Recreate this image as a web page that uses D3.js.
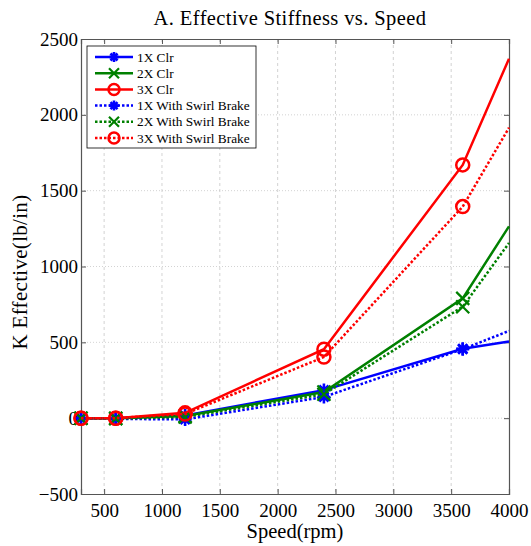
<!DOCTYPE html>
<html>
<head>
<meta charset="utf-8">
<script src="https://cdn.jsdelivr.net/npm/d3@7"></script>
<style>
  body { margin: 0; background: #fff; }
  svg text { font-family: "Liberation Serif", "Times New Roman", "DejaVu Serif", serif; }
</style>
</head>
<body>
<div id="chart"></div>
<script>
// data
const speeds = [300, 600, 1200, 2400, 3600, 4000];
const k1xClr = [0, 0, 18, 185, 458, 505];
const k2xClr = [0, 0, 14, 172, 790, 1265];
const k3xClr = [0, 0, 35, 455, 1670, 2370];
const k1xBrake = [0, -5, -8, 140, 455, 575];
const k2xBrake = [0, -3, 8, 158, 735, 1155];
const k3xBrake = [0, 0, 28, 403, 1395, 1915];
const xTicks = [500, 1000, 1500, 2000, 2500, 3000, 3500, 4000];
const yTicks = [-500, 0, 500, 1000, 1500, 2000, 2500];

const series = [
    {name: '1X Clr', values: k1xClr, color: '#0000ff', dash: null, marker: 'star'},
    {name: '2X Clr', values: k2xClr, color: '#008000', dash: null, marker: 'x'},
    {name: '3X Clr', values: k3xClr, color: '#ff0000', dash: null, marker: 'circle'},
    {name: '1X With Swirl Brake', values: k1xBrake, color: '#0000ff', dash: '2.5,2', marker: 'star'},
    {name: '2X With Swirl Brake', values: k2xBrake, color: '#008000', dash: '2.5,2', marker: 'x'},
    {name: '3X With Swirl Brake', values: k3xBrake, color: '#ff0000', dash: '2.5,2', marker: 'circle'}
];

const width = 531, height = 546;
const margin = {top: 39, right: 22, bottom: 52, left: 81};
const w = width - margin.left - margin.right;
const h = height - margin.top - margin.bottom;
const serif = '"Liberation Serif", "Times New Roman", "DejaVu Serif", serif';

const svg = d3.select('#chart').append('svg')
    .attr('width', width)
    .attr('height', height);

const g = svg.append('g')
    .attr('transform', 'translate(' + margin.left + ',' + margin.top + ')');

const x = d3.scaleLinear().domain([300, 4000]).range([0, w]);
const y = d3.scaleLinear().domain([-500, 2500]).range([h, 0]);

// grid
g.append('g').selectAll('line')
    .data(xTicks.filter(t => t < 4000))
    .join('line')
    .attr('x1', d => x(d)).attr('x2', d => x(d))
    .attr('y1', 0).attr('y2', h)
    .attr('stroke', '#c8c8c8').attr('stroke-width', 0.8)
    .attr('stroke-dasharray', '3,3');

g.append('g').selectAll('line')
    .data(yTicks.filter(t => t > -500 && t < 2500))
    .join('line')
    .attr('x1', 0).attr('x2', w)
    .attr('y1', d => y(d)).attr('y2', d => y(d))
    .attr('stroke', '#c8c8c8').attr('stroke-width', 0.8)
    .attr('stroke-dasharray', '1,2');

// axes
const axisColor = '#555';
const xAxis = g.append('g')
    .attr('transform', 'translate(0,' + h + ')')
    .call(d3.axisBottom(x).tickValues(xTicks).tickSize(-5).tickPadding(10).tickFormat(d3.format('d')));
const xTop = g.append('g')
    .call(d3.axisTop(x).tickValues(xTicks).tickSize(-5).tickFormat(''));
const yAxis = g.append('g')
    .call(d3.axisLeft(y).tickValues(yTicks).tickSize(-5).tickPadding(3).tickFormat(d3.format('d')));
const yRight = g.append('g')
    .attr('transform', 'translate(' + w + ',0)')
    .call(d3.axisRight(y).tickValues(yTicks).tickSize(-5).tickFormat(''));

[xAxis, xTop, yAxis, yRight].forEach(a => {
    a.attr('font-family', serif);
    a.select('.domain').attr('stroke', axisColor).attr('stroke-width', 1.2);
    a.selectAll('.tick line').attr('stroke', axisColor);
    a.selectAll('text')
        .attr('font-size', 19)
        .attr('fill', '#000');
});

// lines + markers
const line = d3.line()
    .x((d, i) => x(speeds[i]))
    .y(d => y(d));

function drawMarker(sel, type, color, size) {
    if (type === 'circle') {
        sel.append('circle').attr('r', size)
            .attr('fill', 'none').attr('stroke', color).attr('stroke-width', 2.5);
    } else if (type === 'x') {
        sel.append('path')
            .attr('d', 'M' + -size + ',' + -size + 'L' + size + ',' + size + 'M' + -size + ',' + size + 'L' + size + ',' + -size)
            .attr('stroke', color).attr('stroke-width', 2.2);
    } else {
        let p = '';
        for (let k = 0; k < 4; k++) {
            let a = k * Math.PI / 4;
            p += 'M' + (-size * Math.cos(a)) + ',' + (-size * Math.sin(a)) + 'L' + (size * Math.cos(a)) + ',' + (size * Math.sin(a));
        }
        sel.append('path').attr('d', p)
            .attr('stroke', color).attr('stroke-width', 2.6);
    }
}

const plot = g.append('g');
series.forEach(s => {
    plot.append('path')
        .datum(s.values)
        .attr('d', line)
        .attr('fill', 'none')
        .attr('stroke', s.color)
        .attr('stroke-width', 2.5)
        .attr('stroke-dasharray', s.dash);

    s.values.forEach((v, i) => {
        if (speeds[i] === 4000) return;
        let m = plot.append('g')
            .attr('transform', 'translate(' + x(speeds[i]) + ',' + y(v) + ')');
        drawMarker(m, s.marker, s.color, 6.5);
    });
});

// legend
const legend = g.append('g').attr('transform', 'translate(6,7)');
legend.append('rect')
    .attr('width', 169).attr('height', 102)
    .attr('fill', '#fff').attr('stroke', '#000').attr('stroke-width', 0.8);

series.forEach((s, i) => {
    let row = legend.append('g').attr('transform', 'translate(0,' + (11 + i * 16.2) + ')');
    row.append('line')
        .attr('x1', 8).attr('x2', 46)
        .attr('stroke', s.color).attr('stroke-width', 2.5)
        .attr('stroke-dasharray', s.dash);
    let m = row.append('g').attr('transform', 'translate(27,0)');
    drawMarker(m, s.marker, s.color, s.marker === 'circle' ? 5.5 : 5);
    row.append('text')
        .attr('x', 50).attr('y', 4.5)
        .attr('font-size', 13.3)
        .attr('font-family', serif)
        .text(s.name);
});

// labels
svg.append('text')
    .attr('x', 290).attr('y', 25)
    .attr('text-anchor', 'middle')
    .attr('font-size', 20.5)
    .attr('letter-spacing', 0.4)
    .attr('font-family', serif)
    .text('A. Effective Stiffness vs. Speed');

svg.append('text')
    .attr('x', 295).attr('y', 538)
    .attr('text-anchor', 'middle')
    .attr('font-size', 20.5)
    .attr('font-family', serif)
    .text('Speed(rpm)');

svg.append('text')
    .attr('transform', 'translate(27,272) rotate(-90)')
    .attr('text-anchor', 'middle')
    .attr('font-size', 21)
    .attr('letter-spacing', 0.3)
    .attr('font-family', serif)
    .text('K Effective(lb/in)');
</script>
</body>
</html>
